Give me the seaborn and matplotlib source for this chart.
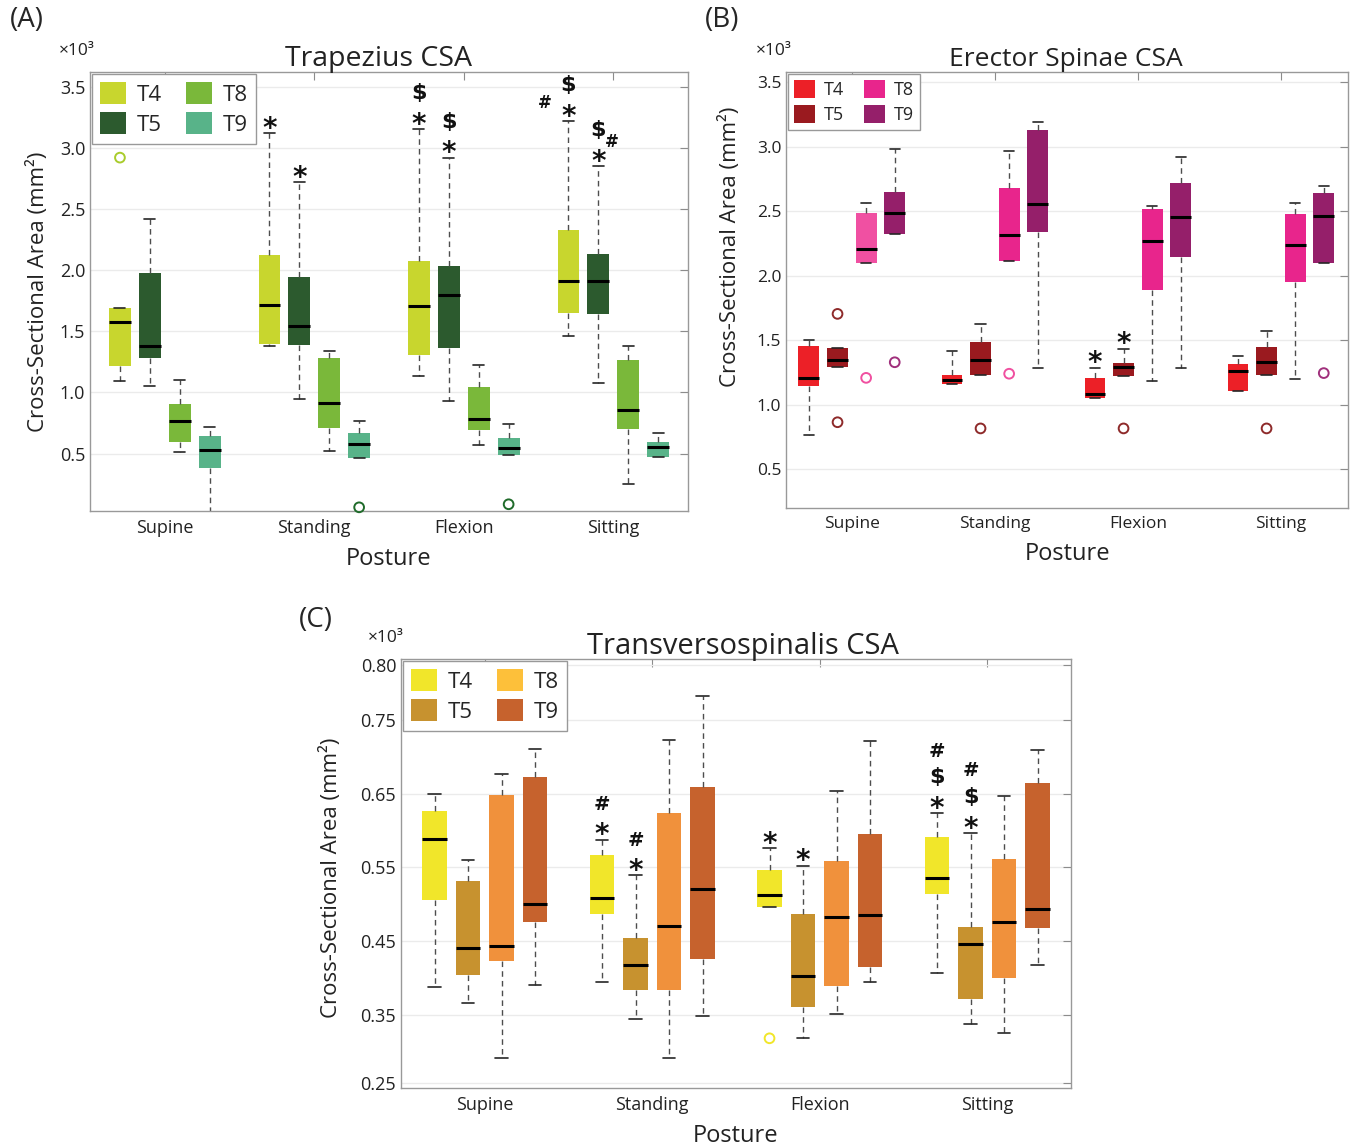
import matplotlib
matplotlib.use('Agg')
import matplotlib.pyplot as plt
from matplotlib.patches import Patch
import seaborn as sns
import pandas as pd

sns.set_style('white')
plt.rcParams['font.family'] = ['Open Sans', 'DejaVu Sans']

postures = ['Supine', 'Standing', 'Flexion', 'Sitting']
levels = ['T4', 'T5', 'T8', 'T9']

# box stats in x10^3 mm^2; rows = postures, columns = T4, T5, T8, T9
trap_lo = [[1.09, 1.05, 0.515, 0.0], [1.38, 0.945, 0.524, 0.461],
           [1.137, 0.927, 0.569, 0.488], [1.459, 1.08, 0.25, 0.47]]
trap_q1 = [[1.216, 1.282, 0.596, 0.38], [1.396, 1.387, 0.71, 0.461],
           [1.303, 1.366, 0.695, 0.488], [1.648, 1.643, 0.701, 0.47]]
trap_med = [[1.573, 1.378, 0.765, 0.527], [1.718, 1.543, 0.915, 0.578],
            [1.703, 1.793, 0.786, 0.542], [1.913, 1.913, 0.858, 0.554]]
trap_q3 = [[1.69, 1.973, 0.903, 0.647], [2.127, 1.943, 1.285, 0.671],
           [2.078, 2.036, 1.047, 0.623], [2.325, 2.13, 1.261, 0.593]]
trap_hi = [[1.69, 2.42, 1.10, 0.716], [3.12, 2.72, 1.339, 0.765],
           [3.152, 2.917, 1.222, 0.738], [3.218, 2.848, 1.381, 0.665]]
trap_out = [('Supine', 'T4', 2.92), ('Standing', 'T9', 0.06), ('Flexion', 'T9', 0.085)]
trap_marks = [('Standing', 'T4', '*'), ('Standing', 'T5', '*'),
              ('Flexion', 'T4', '*$'), ('Flexion', 'T5', '*$'),
              ('Sitting', 'T4', '*$'), ('Sitting', 'T5', '*$')]
trap_side = [('Sitting', 'T4', '#', 'left'), ('Sitting', 'T5', '#', 'right')]

erec_lo = [[0.765, 1.292, 2.097, 2.327], [1.158, 1.235, 2.117, 1.287],
           [1.054, 1.223, 1.186, 1.287], [1.109, 1.232, 1.2, 2.103]]
erec_q1 = [[1.146, 1.292, 2.097, 2.327], [1.158, 1.235, 2.117, 2.341],
           [1.054, 1.223, 1.888, 2.149], [1.109, 1.232, 1.954, 2.103]]
erec_med = [[1.206, 1.35, 2.209, 2.49], [1.195, 1.35, 2.318, 2.559],
            [1.086, 1.295, 2.269, 2.458], [1.266, 1.335, 2.241, 2.461]]
erec_q3 = [[1.453, 1.441, 2.487, 2.65], [1.232, 1.484, 2.682, 3.132],
           [1.206, 1.324, 2.519, 2.716], [1.315, 1.45, 2.479, 2.639]]
erec_hi = [[1.499, 1.441, 2.567, 2.98], [1.415, 1.627, 2.966, 3.195],
           [1.289, 1.433, 2.539, 2.923], [1.375, 1.573, 2.562, 2.696]]
erec_out = [('Supine', 'T5', 1.705), ('Supine', 'T5', 0.865), ('Supine', 'T8', 1.209),
            ('Supine', 'T9', 1.33), ('Standing', 'T5', 0.817), ('Standing', 'T8', 1.241),
            ('Flexion', 'T5', 0.817), ('Sitting', 'T5', 0.817), ('Sitting', 'T9', 1.246)]
erec_marks = [('Flexion', 'T4', '*'), ('Flexion', 'T5', '*')]

trans_lo = [[0.387, 0.366, 0.291, 0.39], [0.395, 0.344, 0.291, 0.348],
            [0.496, 0.319, 0.351, 0.395], [0.406, 0.338, 0.325, 0.417]]
trans_q1 = [[0.505, 0.404, 0.423, 0.476], [0.486, 0.383, 0.383, 0.426],
            [0.496, 0.36, 0.389, 0.415], [0.514, 0.371, 0.40, 0.467]]
trans_med = [[0.588, 0.441, 0.443, 0.50], [0.508, 0.418, 0.47, 0.52],
             [0.513, 0.403, 0.482, 0.485], [0.536, 0.446, 0.476, 0.493]]
trans_q3 = [[0.627, 0.531, 0.648, 0.673], [0.566, 0.454, 0.624, 0.659],
            [0.547, 0.487, 0.559, 0.595], [0.591, 0.469, 0.561, 0.665]]
trans_hi = [[0.649, 0.56, 0.677, 0.711], [0.587, 0.539, 0.723, 0.782],
            [0.576, 0.552, 0.653, 0.722], [0.623, 0.596, 0.647, 0.709]]
trans_out = [('Flexion', 'T4', 0.318)]
trans_marks = [('Standing', 'T4', '*#'), ('Standing', 'T5', '*#'),
               ('Flexion', 'T4', '*'), ('Flexion', 'T5', '*'),
               ('Sitting', 'T4', '*$#'), ('Sitting', 'T5', '*$#')]
trans_ticks = [0.258, 0.35, 0.45, 0.55, 0.65, 0.75, 0.825]
trans_ticklabels = ['0.25', '0.35', '0.45', '0.55', '0.65', '0.75', '0.80']

trap_colors = ['#C8D62E', '#2C5A2E', '#7AB83A', '#58B389']
trap_out_colors = {'T4': '#A9CC2C', 'T5': '#1F6B2A', 'T8': '#1F6B2A', 'T9': '#1F6B2A'}
erec_colors = ['#EC2027', '#9A1A1F', '#E8258C', '#951F6A']
erec_out_colors = {'T4': '#EC2027', 'T5': '#8E2A2A', 'T8': '#F050A0', 'T9': '#A0307C'}
trans_colors = ['#F1E62A', '#C7922F', '#F0913C', '#C6622D']
trans_legend = ['#F1E62A', '#C7922F', '#FDC03A', '#C6622D']
trans_out_colors = {'T4': '#F1E62A', 'T5': '#C7922F', 'T8': '#F0913C', 'T9': '#C6622D'}

# symbol size and vertical centre (fraction of em above baseline) for the marks
SYM = {'*': (20, 0.55), '$': (16, 0.30), '#': (14, 0.36)}
ROW_PT = [8.5, 26.5, 46.0]


def stats_frame(lo, q1, med, q3, hi):
    rows = []
    for i, p in enumerate(postures):
        for j, lv in enumerate(levels):
            for v in (lo[i][j], q1[i][j], med[i][j], q3[i][j], hi[i][j]):
                rows.append((p, lv, v))
    return pd.DataFrame(rows, columns=['posture', 'level', 'value'])


def xpos(p, lv):
    return postures.index(p) + (levels.index(lv) - 1.5) * 0.2


def put_symbol(ax, ch, x, y, dx, dy_centre, scale=1.0):
    fs, c = SYM[ch]
    fs = fs * scale
    txt = r'\$' if ch == '$' else ch
    ax.annotate(txt, (x, y), xytext=(dx, dy_centre - c * fs), textcoords='offset points',
                ha='center', va='baseline', fontsize=fs, fontweight='bold',
                family='DejaVu Sans', color='#111111')


def add_marks(ax, hi, marks):
    for p, lv, syms in marks:
        y = hi[postures.index(p)][levels.index(lv)]
        for k, ch in enumerate(syms):
            put_symbol(ax, ch, xpos(p, lv), y, 0, ROW_PT[k])


def draw_panel(ax, lo, q1, med, q3, hi, outl, colors, out_colors, legend_colors,
               title, title_fs, title_x, legend_fs):
    df = stats_frame(lo, q1, med, q3, hi)
    sns.boxplot(data=df, x='posture', y='value', hue='level', order=postures,
                hue_order=levels, palette=colors, saturation=1, whis=(0, 100),
                width=0.8, gap=0.27, linecolor='k', boxprops=dict(linewidth=0),
                whiskerprops=dict(linestyle=(0, (4, 3)), color='0.3', linewidth=1),
                capprops=dict(color='0.15', linewidth=1.2),
                medianprops=dict(color='k', linewidth=2.2),
                legend=False, ax=ax)
    n0 = len(ax.collections)
    odf = pd.DataFrame(outl, columns=['posture', 'level', 'value'])
    sns.stripplot(data=odf, x='posture', y='value', hue='level', order=postures,
                  hue_order=levels, palette=out_colors, dodge=True, jitter=False,
                  size=7, legend=False, ax=ax)
    for coll in ax.collections[n0:]:
        fc = coll.get_facecolors()
        coll.set_edgecolors(fc)
        coll.set_facecolors('none')
        coll.set_linewidth(1.4)
        coll.set_clip_on(False)
    handles = [Patch(facecolor=c, edgecolor='none') for c in legend_colors]
    leg = ax.legend(handles, levels, ncol=2, loc='upper left', fancybox=False,
                    edgecolor='0.6', framealpha=1, fontsize=legend_fs,
                    handlelength=1.15, handleheight=1.15, handletextpad=0.5,
                    columnspacing=1.1, labelspacing=0.3, borderaxespad=0.1,
                    borderpad=0.35)
    leg.get_frame().set_linewidth(1)
    ax.set_title(title, fontsize=title_fs, pad=4, color='#222222', x=title_x)
    ax.set_xlabel('Posture', fontsize=17, color='#222222', labelpad=7)
    ax.set_ylabel('Cross-Sectional Area (mm²)', fontsize=16, color='#222222')
    ax.yaxis.grid(True, color='#EBEBEB', linewidth=1)
    ax.set_axisbelow(True)
    ax.tick_params(direction='in', length=6, top=True, right=True, color='0.55',
                   labelsize=13, labelcolor='#222222')
    ax.tick_params(axis='x', labelsize=13, pad=6)
    for s in ax.spines.values():
        s.set_color('0.6')
        s.set_linewidth(1)
        s.set_visible(True)
    ax.text(-0.022, 1.03, '×10³', transform=ax.transAxes, ha='center', va='bottom',
            fontsize=12.5, color='#222222')


fig = plt.figure(figsize=(13.52, 11.47), dpi=100)
axA = fig.add_axes([0.0666, 0.5545, 0.4423, 0.3827])
axB = fig.add_axes([0.5814, 0.5571, 0.4157, 0.3801])
axC = fig.add_axes([0.2966, 0.0514, 0.4956, 0.374])

draw_panel(axA, trap_lo, trap_q1, trap_med, trap_q3, trap_hi, trap_out,
           trap_colors, trap_out_colors, trap_colors, 'Trapezius CSA', 20.5, 0.483, 16)
axA.set_ylim(0.03, 3.62)
axA.set_yticks([0.5, 1.0, 1.5, 2.0, 2.5, 3.0, 3.5])
axA.set_xlim(-0.5, 3.5)
axA.yaxis.set_label_coords(-0.069, 0.5)
add_marks(axA, trap_hi, trap_marks)
for p, lv, ch, side in trap_side:
    y = trap_hi[postures.index(p)][levels.index(lv)]
    dx, dy = (-17, 14) if side == 'left' else (10, 18)
    put_symbol(axA, ch, xpos(p, lv), y, dx, dy, scale=0.85)

draw_panel(axB, erec_lo, erec_q1, erec_med, erec_q3, erec_hi, erec_out,
           erec_colors, erec_out_colors, erec_colors, 'Erector Spinae CSA', 19, 0.497, 13)
axB.set_ylim(0.2, 3.58)
axB.set_yticks([0.5, 1.0, 1.5, 2.0, 2.5, 3.0, 3.5])
axB.set_xlim(-0.46, 3.47)
axB.tick_params(labelsize=12.5)
axB.yaxis.set_label_coords(-0.08, 0.6)
add_marks(axB, erec_hi, erec_marks)
# the supine T8 box is drawn in a lighter pink
for patch in axB.patches:
    verts = patch.get_path().vertices
    if len(verts) and abs(verts[:, 0].mean() - xpos('Supine', 'T8')) < 0.03:
        patch.set_facecolor('#F050A2')

draw_panel(axC, trans_lo, trans_q1, trans_med, trans_q3, trans_hi, trans_out,
           trans_colors, trans_out_colors, trans_legend, 'Transversospinalis CSA', 21,
           0.51, 16)
axC.set_ylim(0.2505, 0.8325)
axC.set_yticks(trans_ticks)
axC.set_yticklabels(trans_ticklabels)
axC.set_xlim(-0.5, 3.5)
axC.yaxis.set_label_coords(-0.088, 0.49)
add_marks(axC, trans_hi, trans_marks)

fig.text(0.007, 0.995, '(A)', fontsize=20, va='top', ha='left')
fig.text(0.521, 0.995, '(B)', fontsize=20, va='top', ha='left')
fig.text(0.221, 0.472, '(C)', fontsize=20, va='top', ha='left')

fig.savefig('out.png', dpi=100)
